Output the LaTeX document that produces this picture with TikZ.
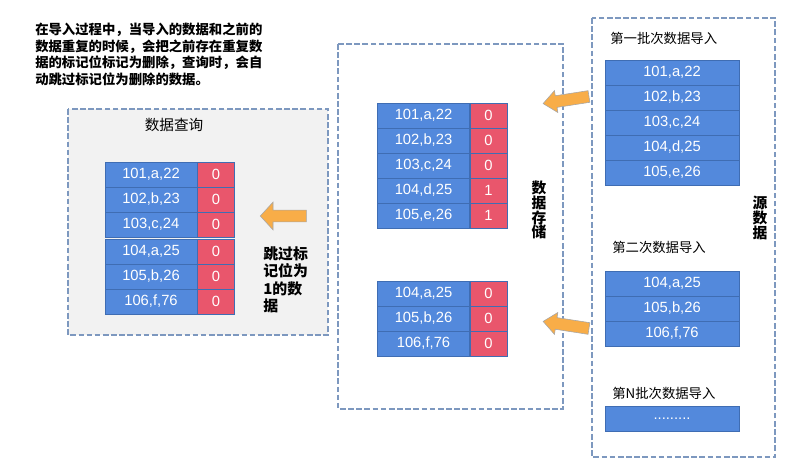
\documentclass[tikz,border=0pt]{standalone}
\usepackage{fontspec}
\setmainfont{Liberation Sans}
\newfontfamily\cjk{Noto Sans CJK SC}
\usetikzlibrary{positioning, shapes.arrows}

\definecolor{cellblue}{HTML}{5389DC}
\definecolor{cellline}{HTML}{3F6DB3}
\definecolor{flagred}{HTML}{E9566C}
\definecolor{framegray}{HTML}{7D98BF}
\definecolor{panelgray}{HTML}{F2F2F2}
\definecolor{arroworange}{HTML}{F8AD48}

\tikzset{
  cell/.style={draw=cellline, fill=cellblue, text=white, inner sep=0pt,
    minimum height=0.625cm, font=\fontsize{10.5}{12}\selectfont},
  datacell/.style={cell, minimum width=2.3cm},
  flagcell/.style={cell, fill=flagred, minimum width=0.925cm},
  srccell/.style={cell, minimum width=3.35cm},
  frame/.style={draw=framegray, line width=1pt, dash pattern=on 4pt off 1.8pt},
  pushed/.style={single arrow, draw=gray!70, line width=0.4pt, fill=arroworange,
    inner sep=0pt, inner ysep=0.14cm, single arrow head extend=0.13cm,
    single arrow tip angle=80},
  caption/.style={font=\cjk\fontsize{9.5}{11.7}\selectfont, inner sep=0pt},
  sidelabel/.style={font=\cjk\bfseries\fontsize{10.5}{10.6}\selectfont, align=center, inner sep=0pt}
}

\begin{document}
\begin{tikzpicture}[x=0.025cm, y=-0.025cm]
  \useasboundingbox (0,0) rectangle (800,471);

  % frames
  \draw[frame, fill=panelgray] (68,109) rectangle (328,335);
  \draw[frame] (338,44) rectangle (563,409);
  \draw[frame] (592,18) rectangle (775,457);

  % note
  \node[caption, font=\cjk\bfseries\fontsize{9.5}{11.7}\selectfont, anchor=north west, align=left] (note) at (35,23)
    {在导入过程中，当导入的数据和之前的\\数据重复的时候，会把之前存在重复数\\据的标记位标记为删除，查询时，会自\\动跳过标记位为删除的数据。};

  % query
  \node[caption, font=\cjk\fontsize{10.4}{12}\selectfont] (qtitle) at (174,125) {数据查询};
  \foreach \y/\txt/\flag [count=\i] in {174.5/{101,a,22}/0, 199.5/{102,b,23}/0, 224.5/{103,c,24}/0,
      251.5/{104,a,25}/0, 276.5/{105,b,26}/0, 301.5/{106,f,76}/0} {
    \node[datacell] (q\i) at (151,\y) {\txt};
    \node[flagcell, right=0pt of q\i] (qf\i) {\flag};
  }
  \node[pushed, single arrow head extend=0.2cm, single arrow tip angle=95,
    minimum height=1.15cm, rotate=180] (qarrow) at (286,216) {};
  \node[sidelabel, font=\cjk\bfseries\fontsize{10.6}{12.5}\selectfont, align=left, anchor=north west] (skip) at (263,246)
    {跳过标\\记位为\\1的数\\据};

  % storage
  \foreach \y/\txt/\flag [count=\i] in {115.5/{101,a,22}/0, 140.5/{102,b,23}/0, 165.5/{103,c,24}/0,
      190.5/{104,d,25}/1, 215.5/{105,e,26}/1, 293.5/{104,a,25}/0, 318.5/{105,b,26}/0, 343.5/{106,f,76}/0} {
    \node[datacell] (s\i) at (423.5,\y) {\txt};
    \node[flagcell, right=0pt of s\i] (sf\i) {\flag};
  }
  \node[sidelabel] (store) at (539,210) {数\\据\\存\\储};

  % source
  \node[caption, anchor=west] (batch1) at (610,38) {第一批次数据导入};
  \foreach \y/\txt [count=\i] in {72.5/{101,a,22}, 97.5/{102,b,23}, 122.5/{103,c,24},
      147.5/{104,d,25}, 172.5/{105,e,26}} {
    \node[srccell] (a\i) at (672,\y) {\txt};
  }
  \node[caption, anchor=west] (batch2) at (612,247) {第二次数据导入};
  \foreach \y/\txt [count=\i] in {283.5/{104,a,25}, 308.5/{105,b,26}, 333.5/{106,f,76}} {
    \node[srccell] (b\i) at (672,\y) {\txt};
  }
  \node[caption, anchor=west] (batchn) at (612,393) {第N批次数据导入};
  \node[srccell] (n1) at (672,418.5) {.........};
  \node[sidelabel] (source) at (760,218) {源\\数\\据};

  % import arrows
  \node[pushed, minimum height=1.16cm, rotate=188.8] (imp1) at (569.5,99.5) {};
  \node[pushed, minimum height=1.16cm, rotate=171.2] (imp2) at (569.5,325.5) {};
\end{tikzpicture}
\end{document}
